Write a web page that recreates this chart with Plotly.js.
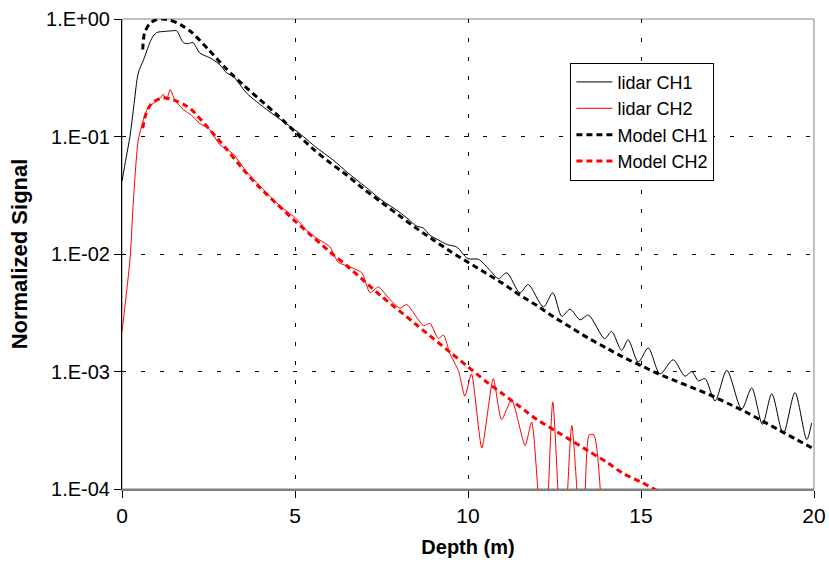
<!DOCTYPE html>
<html>
<head>
<meta charset="utf-8">
<script src="https://cdn.plot.ly/plotly-3.0.1.min.js"></script>
<style>html,body{margin:0;padding:0;background:#fff;} #chart{width:829px;height:568px;}</style>
</head>
<body>
<div id="chart"></div>
<script>
// Depth (m) and normalized signal values
const lidarCh1Depth = [0,0.12,0.23,0.35,0.47,0.62,0.86,1.0,1.25,1.48,1.58,1.77,1.92,2.05,2.25,2.54,2.83,3.03,3.22,3.6,4.18,4.6,5.0,5.24,5.6,6.1,6.53,7.0,7.5,8.0,8.3,8.5,8.71,8.9,9.14,9.4,9.67,10.0,10.3,10.64,10.88,11.12,11.5,11.74,12.18,12.45,12.71,12.95,13.24,13.48,13.95,14.15,14.44,14.63,14.92,15.21,15.55,15.93,16.27,16.47,16.66,16.85,17.14,17.48,17.91,18.2,18.51,18.78,19.11,19.45,19.79,19.93];
const lidarCh1Signal = [0.04169,0.06607,0.1000,0.1905,0.3467,0.4467,0.6839,0.7656,0.7852,0.7943,0.7943,0.6310,0.6166,0.6310,0.5129,0.4677,0.4074,0.3467,0.3236,0.2344,0.1698,0.1380,0.1135,0.1000,0.08128,0.06310,0.04898,0.03802,0.02884,0.02291,0.01950,0.01738,0.01660,0.01445,0.01318,0.01202,0.01148,0.009120,0.009016,0.007244,0.006166,0.006918,0.004677,0.005495,0.003548,0.004677,0.002951,0.003388,0.002754,0.003020,0.001905,0.002188,0.001514,0.001862,0.001202,0.001585,0.0009550,0.001259,0.0009120,0.001000,0.0008318,0.0008710,0.0005623,0.001023,0.0004786,0.0007244,0.0003548,0.0006457,0.0002951,0.0006607,0.0002630,0.0003631];

const lidarCh2Depth = [0,0.23,0.33,0.47,0.66,0.76,0.9,1.1,1.19,1.29,1.39,1.53,1.77,2.01,2.25,2.5,2.83,3.22,3.6,4.18,4.6,5.0,5.34,5.6,6.01,6.25,6.59,6.93,7.17,7.41,7.75,8.03,8.23,8.71,8.9,9.14,9.29,9.48,9.72,9.91,10.1,10.4,10.73,10.97,11.26,11.65,11.84,12.2,12.45,12.74,13.0,13.32,13.5,13.64,13.95];
const lidarCh2Signal = [0.002188,0.008913,0.02884,0.09333,0.1514,0.1778,0.1905,0.2113,0.2291,0.2042,0.2512,0.2042,0.1698,0.1514,0.1288,0.1175,0.08511,0.07079,0.05012,0.03311,0.02512,0.02042,0.01585,0.01380,0.01148,0.008511,0.007762,0.006918,0.004677,0.005248,0.004074,0.003467,0.003715,0.002455,0.002570,0.001905,0.002042,0.001413,0.001023,0.0006166,0.0009550,0.0002239,0.0008710,0.0003890,0.0005754,0.0002344,0.0003715,0.00002,0.0005495,0.00002,0.0003467,0.00002,0.0002884,0.0002884,0.00002];

const modelCh1Depth = [0.6,0.65,0.8,1.0,1.2,1.4,1.7,2.0,2.5,3.0,3.5,4.0,4.5,5.0,5.5,6.0,6.5,7.0,7.5,8.0,8.5,9.0,9.5,10,10.5,11,11.5,12,12.5,13,13.5,14,14.5,15,15.5,16,16.5,17,17.5,18,18.5,19,19.5,20];
const modelCh1Signal = [0.5495,0.7586,0.9120,0.9886,1.0,0.9772,0.8913,0.7762,0.5495,0.3802,0.2754,0.2042,0.1514,0.1096,0.07943,0.06026,0.04677,0.03548,0.02754,0.02138,0.01660,0.01318,0.01047,0.008511,0.006918,0.005623,0.004467,0.003631,0.002884,0.002344,0.001905,0.001585,0.001318,0.001122,0.0009550,0.0008318,0.0007244,0.0006310,0.0005370,0.0004571,0.0003802,0.0003162,0.0002630,0.0002188];

const modelCh2Depth = [0.6,0.7,0.85,1.0,1.2,1.5,1.8,2.0,2.5,3.0,3.5,4.0,4.5,5.0,5.5,6.0,6.5,7.0,7.5,8.0,8.5,9.0,9.5,10,10.5,11,11.5,12,12.5,13,13.5,14,14.5,15,15.5,16];
const modelCh2Signal = [0.1175,0.1585,0.1905,0.2042,0.2138,0.2042,0.1862,0.1698,0.1175,0.07943,0.05248,0.03631,0.02630,0.01905,0.01413,0.01047,0.007943,0.005888,0.004365,0.003311,0.002512,0.001905,0.001445,0.001096,0.0008318,0.0006457,0.0005012,0.0003890,0.0003162,0.0002570,0.0002089,0.0001698,0.0001349,0.0001148,0.0000955,0.0000794];

const xTicks = [0,5,10,15,20];
const yTickVals = [1,0.1,0.01,0.001,0.0001];
const yTickText = ['1.E+00','1.E-01','1.E-02','1.E-03','1.E-04'];

const FONT = 'Liberation Sans, Arial, sans-serif';

const traces = [
  {x: lidarCh1Depth, y: lidarCh1Signal, name: 'lidar CH1', mode: 'lines',
   line: {color: '#000000', width: 1, shape: 'spline', smoothing: 0.8}},
  {x: lidarCh2Depth, y: lidarCh2Signal, name: 'lidar CH2', mode: 'lines',
   line: {color: '#ff0000', width: 1, shape: 'spline', smoothing: 0.6}},
  {x: modelCh1Depth, y: modelCh1Signal, name: 'Model CH1', mode: 'lines',
   line: {color: '#000000', width: 3, dash: '6px,4px', shape: 'spline', smoothing: 0.8}},
  {x: modelCh2Depth, y: modelCh2Signal, name: 'Model CH2', mode: 'lines',
   line: {color: '#ff0000', width: 3, dash: '6px,4px', shape: 'spline', smoothing: 0.8}}
];

const layout = {
  width: 829, height: 568,
  margin: {l: 122, r: 15, t: 19, b: 79},
  paper_bgcolor: '#ffffff', plot_bgcolor: '#ffffff',
  font: {family: FONT, color: '#000000'},
  showlegend: true,
  legend: {x: 0.648, y: 0.907, xanchor: 'left', yanchor: 'top',
           bordercolor: '#000000', borderwidth: 1, bgcolor: '#ffffff',
           font: {family: FONT, size: 18, color: '#000000'},
           tracegroupgap: 0, itemwidth: 36},
  xaxis: {
    range: [0, 20], tickvals: xTicks, ticktext: xTicks.map(String),
    ticks: 'outside', ticklen: 7, tickcolor: '#000000', tickwidth: 1,
    showline: true, linecolor: '#808080', linewidth: 2,
    showgrid: true, gridcolor: '#000000', gridwidth: 1, griddash: '4px,15px',
    zeroline: false,
    tickfont: {family: FONT, size: 21, color: '#000000'},
    title: {text: 'Depth (m)', font: {family: FONT, size: 20, weight: 'bold', color: '#000000'}, standoff: 14}
  },
  yaxis: {
    type: 'log', range: [-4, 0], tickvals: yTickVals, ticktext: yTickText,
    ticks: 'outside', ticklen: 7, tickcolor: '#000000', tickwidth: 1,
    showline: true, linecolor: '#000000', linewidth: 1,
    showgrid: true, gridcolor: '#000000', gridwidth: 1, griddash: '4px,15px',
    zeroline: false,
    tickfont: {family: FONT, size: 20, color: '#000000'},
    title: {text: 'Normalized Signal', font: {family: FONT, size: 22, weight: 'bold', color: '#000000'}, standoff: 12}
  },
  shapes: [
    {type: 'rect', xref: 'paper', yref: 'paper', x0: 0, x1: 1, y0: 0, y1: 1,
     line: {color: '#808080', width: 1}, layer: 'below'}
  ]
};

Plotly.newPlot('chart', traces, layout, {displayModeBar: false, staticPlot: true});
</script>
</body>
</html>
